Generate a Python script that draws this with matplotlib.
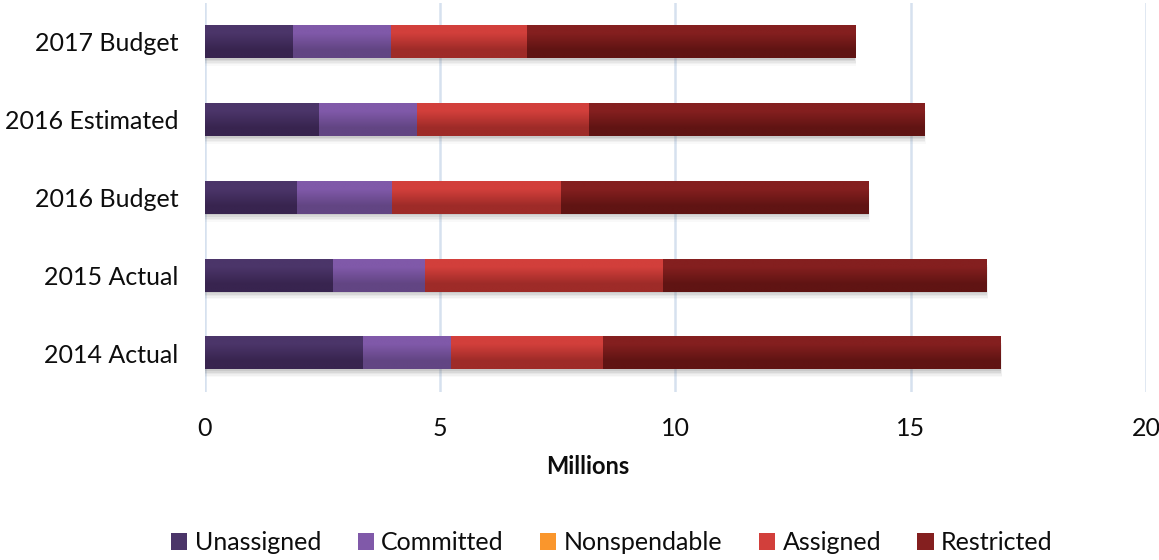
import numpy as np
import matplotlib.pyplot as plt
from matplotlib.patches import Patch
from matplotlib.colors import to_rgb

plt.rcParams['font.family'] = ['Lato', 'DejaVu Sans']

categories = ['2014 Actual', '2015 Actual', '2016 Budget', '2016 Estimated', '2017 Budget']
unassigned = [3.36, 2.72, 1.96, 2.43, 1.87]
committed = [1.87, 1.96, 2.03, 2.08, 2.08]
nonspendable = [0.0, 0.0, 0.0, 0.0, 0.0]
assigned = [3.23, 5.05, 3.57, 3.65, 2.89]
restricted = [8.45, 6.88, 6.54, 7.13, 6.97]

series = [
    ('Unassigned', unassigned, '#4b3569', '#38244f'),
    ('Committed', committed, '#8059a9', '#624583'),
    ('Nonspendable', nonspendable, '#fa962c', '#d7700f'),
    ('Assigned', assigned, '#d23f3b', '#9e2b28'),
    ('Restricted', restricted, '#841f1f', '#601413'),
]

fig = plt.figure(figsize=(11.59, 5.6), dpi=100)
ax = fig.add_axes([204.7 / 1159, 1 - 392 / 560, (1146 - 204.7) / 1159, 389 / 560])

y = np.arange(len(categories))
h = 0.42

# soft drop shadow under each full bar
totals = np.sum([unassigned, committed, nonspendable, assigned, restricted], axis=0)
for k, a in [(0.02, 0.14), (0.04, 0.11), (0.06, 0.08), (0.08, 0.06), (0.10, 0.04)]:
    ax.barh(y - k, totals + k * 0.3, height=h, left=0, color='#6f6f6f',
            alpha=a, linewidth=0, zorder=1)

left = np.zeros(len(categories))
for name, vals, top, bot in series:
    bars = ax.barh(y, vals, height=h, left=left, color=top, linewidth=0,
                   zorder=2, label=name)
    grad = np.array([[to_rgb(top)], [to_rgb(bot)]])
    for b in bars:
        if b.get_width() <= 0:
            continue
        x0, y0 = b.get_x(), b.get_y()
        ax.imshow(grad, extent=[x0, x0 + b.get_width(), y0, y0 + b.get_height()],
                  aspect='auto', interpolation='bilinear', origin='upper', zorder=3)
    left += np.array(vals)

ax.set_xlim(0, 20)
ax.set_ylim(-0.5, len(categories) - 0.5)
ax.set_xticks([0, 5, 10, 15, 20])
ax.set_yticks(y)
ax.set_yticklabels(categories)
ax.xaxis.grid(True, color='#d6e1ef', linewidth=1.8, zorder=0)
ax.set_axisbelow(True)
for s in ax.spines.values():
    s.set_visible(False)
ax.tick_params(axis='x', length=0, pad=18, labelsize=18, labelcolor='#0d0d0d')
ax.tick_params(axis='y', length=0, pad=19, labelsize=18, labelcolor='#0d0d0d')

fig.text(588 / 1159, 1 - 466 / 560, 'Millions', ha='center', va='center',
         fontsize=17, fontweight='bold', color='#0d0d0d')

handles = [Patch(facecolor=top, edgecolor='none') for _, _, top, _ in series]
fig.legend(handles, [s[0] for s in series], loc='center', ncol=5,
           bbox_to_anchor=(612 / 1159, 1 - 543 / 560), frameon=False,
           fontsize=18, handlelength=0.65, handleheight=0.65, handletextpad=0.3,
           columnspacing=1.45, labelcolor='#0d0d0d')

fig.savefig('out.png', dpi=100)
